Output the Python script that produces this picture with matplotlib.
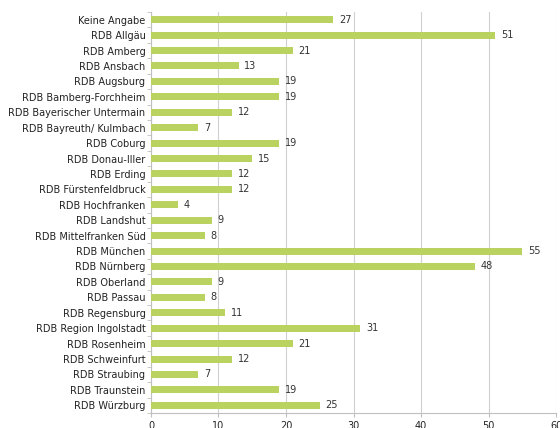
import matplotlib.pyplot as plt
import numpy as np

categories = [
    "Keine Angabe", "RDB Allgäu", "RDB Amberg", "RDB Ansbach", "RDB Augsburg",
    "RDB Bamberg-Forchheim", "RDB Bayerischer Untermain", "RDB Bayreuth/ Kulmbach",
    "RDB Coburg", "RDB Donau-Iller", "RDB Erding", "RDB Fürstenfeldbruck",
    "RDB Hochfranken", "RDB Landshut", "RDB Mittelfranken Süd", "RDB München",
    "RDB Nürnberg", "RDB Oberland", "RDB Passau", "RDB Regensburg",
    "RDB Region Ingolstadt", "RDB Rosenheim", "RDB Schweinfurt", "RDB Straubing",
    "RDB Traunstein", "RDB Würzburg",
]
values = [27, 51, 21, 13, 19, 19, 12, 7, 19, 15, 12, 12, 4, 9, 8, 55, 48, 9, 8, 11,
          31, 21, 12, 7, 19, 25]
x_ticks = [0, 10, 20, 30, 40, 50, 60]

fig = plt.figure(figsize=(5.6, 4.28), dpi=100)
ax = fig.add_axes([0.2696, 0.035, 0.7234, 0.937])

n = len(categories)
y = np.arange(n)
ax.barh(y, values, height=0.45, color="#bad25f", edgecolor="none", zorder=3)

for yi, v in zip(y, values):
    ax.annotate(str(v), (v, yi), xytext=(4, 0), textcoords="offset points",
                va="center", ha="left", fontsize=7, color="#333333")

ax.set_ylim(n - 0.5, -0.5)
ax.set_xlim(0, 60)
ax.set_yticks(y)
ax.set_yticklabels(categories, fontsize=7, color="#222222")
ax.set_xticks(x_ticks)
ax.set_xticklabels([str(t) for t in x_ticks], fontsize=7, color="#222222")

# category separators on the y axis
ax.set_yticks(np.arange(-0.5, n, 1), minor=True)
ax.tick_params(axis="y", which="major", length=0, pad=4)
ax.tick_params(axis="y", which="minor", length=3, color="#bfbfbf", direction="out")
ax.tick_params(axis="x", length=3, color="#bfbfbf", pad=3)

ax.grid(True, axis="x", color="#d0d0d0", linewidth=0.8, zorder=0)
for s in ["top", "right"]:
    ax.spines[s].set_visible(False)
ax.spines["left"].set_color("#bfbfbf")
ax.spines["bottom"].set_color("#bfbfbf")

fig.savefig("out.png", dpi=100)
